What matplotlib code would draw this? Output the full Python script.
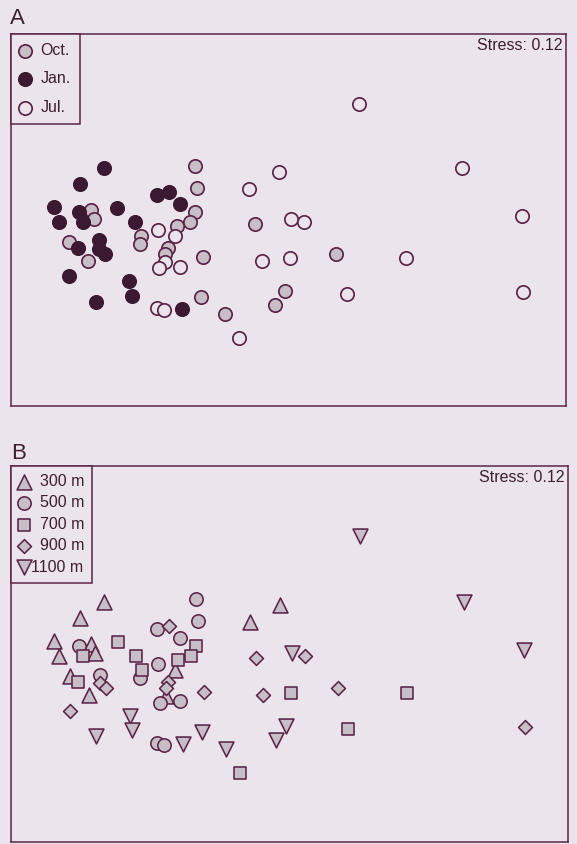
import matplotlib
matplotlib.use("Agg")
import matplotlib.pyplot as plt
import numpy as np

# NMDS site scores, grouped by sampling month
months = ["Oct.", "Jan.", "Jul."]
depth_labels = ["300 m", "500 m", "700 m", "900 m", "1100 m"]
depth_values = [300, 500, 700, 900, 1100]

oct_x = [-0.78, -0.76, -1.65, -1.62, -0.78, -0.82, -1.23, -1.24, -0.93, -1.01,
         -1.03, -1.83, -1.67, -0.71, -0.73, -0.53, -0.28, 0.40, -0.03, -0.11]
oct_y = [0.45, 0.27, 0.08, 0.01, 0.07, -0.02, -0.13, -0.20, -0.05, -0.23,
         -0.28, -0.18, -0.34, -0.31, -0.64, -0.78, -0.03, -0.28, -0.59, -0.71]
oct_depth = [500, 500, 300, 300, 700, 700, 700, 500, 700, 900,
             900, 300, 300, 900, 1100, 1100, 900, 900, 1100, 1100]

jan_x = [-1.54, -1.74, -1.10, -1.00, -1.96, -1.75, -1.43, -1.92, -1.72, -1.28,
         -0.91, -1.76, -1.58, -1.58, -1.53, -1.83, -1.33, -1.31, -1.61, -0.89]
jan_y = [0.43, 0.30, 0.21, 0.23, 0.11, 0.07, 0.10, -0.02, -0.02, -0.02,
         0.13, -0.23, -0.17, -0.24, -0.28, -0.47, -0.51, -0.63, -0.68, -0.74]
jan_depth = [300, 300, 500, 900, 300, 500, 700, 300, 700, 700,
             500, 700, 500, 900, 900, 900, 1100, 1100, 1100, 1100]

jul_x = [0.59, 1.45, -0.08, -0.33, 0.02, 0.13, 1.95, -1.09, -0.95, -1.03,
         -1.08, -0.91, -0.22, 0.01, 0.98, 0.49, 1.96, -1.10, -1.04, -0.41]
jul_y = [0.97, 0.43, 0.40, 0.26, 0.01, -0.02, 0.03, -0.08, -0.13, -0.35,
         -0.40, -0.39, -0.34, -0.32, -0.32, -0.62, -0.60, -0.73, -0.75, -0.98]
jul_depth = [1100, 1100, 300, 300, 1100, 900, 1100, 500, 300, 300,
             500, 500, 900, 700, 700, 700, 900, 500, 500, 700]

stress_text = "Stress: 0.12"

BG = "#ece4ec"
EDGE = "#5a2546"
DARK = "#3b1930"
GREY = "#c7bec7"
TXT = "#3a1f30"

plt.rcParams["font.family"] = ["Liberation Sans", "DejaVu Sans"]

W, H = 577, 844
fig = plt.figure(figsize=(W / 100, H / 100), dpi=100, facecolor=BG)


def make_axes(left, top, right, bottom):
    ax = fig.add_axes([left / W, 1 - bottom / H, (right - left) / W, (bottom - top) / H])
    ax.set_facecolor(BG)
    ax.set_xlim(-2.317, 2.317)
    ax.set_ylim(-1.55, 1.55)
    ax.set_xticks([])
    ax.set_yticks([])
    for sp in ax.spines.values():
        sp.set_color(EDGE)
        sp.set_linewidth(1.1)
    ax.text(0.994, 0.99, stress_text, transform=ax.transAxes, ha="right", va="top",
            fontsize=11.5, color=TXT)
    return ax


# ---------- panel A: by month ----------
axA = make_axes(11, 34, 566, 406)
fig.text(10 / W, 1 - 24 / H, "A", fontsize=16, color=TXT, ha="left", va="baseline")

month_style = {
    "Oct.": dict(facecolor=GREY, edgecolor=EDGE),
    "Jan.": dict(facecolor=DARK, edgecolor=DARK),
    "Jul.": dict(facecolor=BG, edgecolor=EDGE),
}
month_data = {
    "Oct.": (oct_x, oct_y),
    "Jan.": (jan_x, jan_y),
    "Jul.": (jul_x, jul_y),
}
for m in months:
    x, y = month_data[m]
    axA.scatter(x, y, s=92, linewidths=1.25, label=m, **month_style[m])

legA = axA.legend(loc="upper left", bbox_to_anchor=(0, 1), borderaxespad=0,
                  fontsize=11.5, frameon=True, fancybox=False, framealpha=1,
                  facecolor=BG, edgecolor=EDGE, borderpad=0.55, handlelength=0.6,
                  handletextpad=0.7, labelspacing=0.85, scatterpoints=1)
legA.get_frame().set_linewidth(1.1)
for t in legA.get_texts():
    t.set_color(TXT)

# ---------- panel B: by depth ----------
axB = make_axes(11, 466, 568, 842)
fig.text(11 / W, 1 - 459 / H, "B", fontsize=16, color=TXT, ha="left", va="baseline")

all_x = np.array(oct_x + jan_x + jul_x)
all_y = np.array(oct_y + jan_y + jul_y)
all_depth = np.array(oct_depth + jan_depth + jul_depth)

depth_marker = {300: ("^", 115), 500: ("o", 92), 700: ("s", 70), 900: ("D", 50), 1100: ("v", 115)}
for d, lab in zip(depth_values, depth_labels):
    sel = all_depth == d
    mk, sz = depth_marker[d]
    pad = "  " if d < 1000 else ""
    axB.scatter(all_x[sel], all_y[sel], marker=mk, s=sz, facecolor=GREY,
                edgecolor=EDGE, linewidths=1.15, label=pad + lab)

legB = axB.legend(loc="upper left", bbox_to_anchor=(0, 1), borderaxespad=0,
                  fontsize=11.5, frameon=True, fancybox=False, framealpha=1,
                  facecolor=BG, edgecolor=EDGE, borderpad=0.5, handlelength=0.6,
                  handletextpad=0.15, labelspacing=0.4, scatterpoints=1)
legB.get_frame().set_linewidth(1.1)
for t in legB.get_texts():
    t.set_color(TXT)

fig.savefig("out.png", dpi=100, facecolor=BG)
